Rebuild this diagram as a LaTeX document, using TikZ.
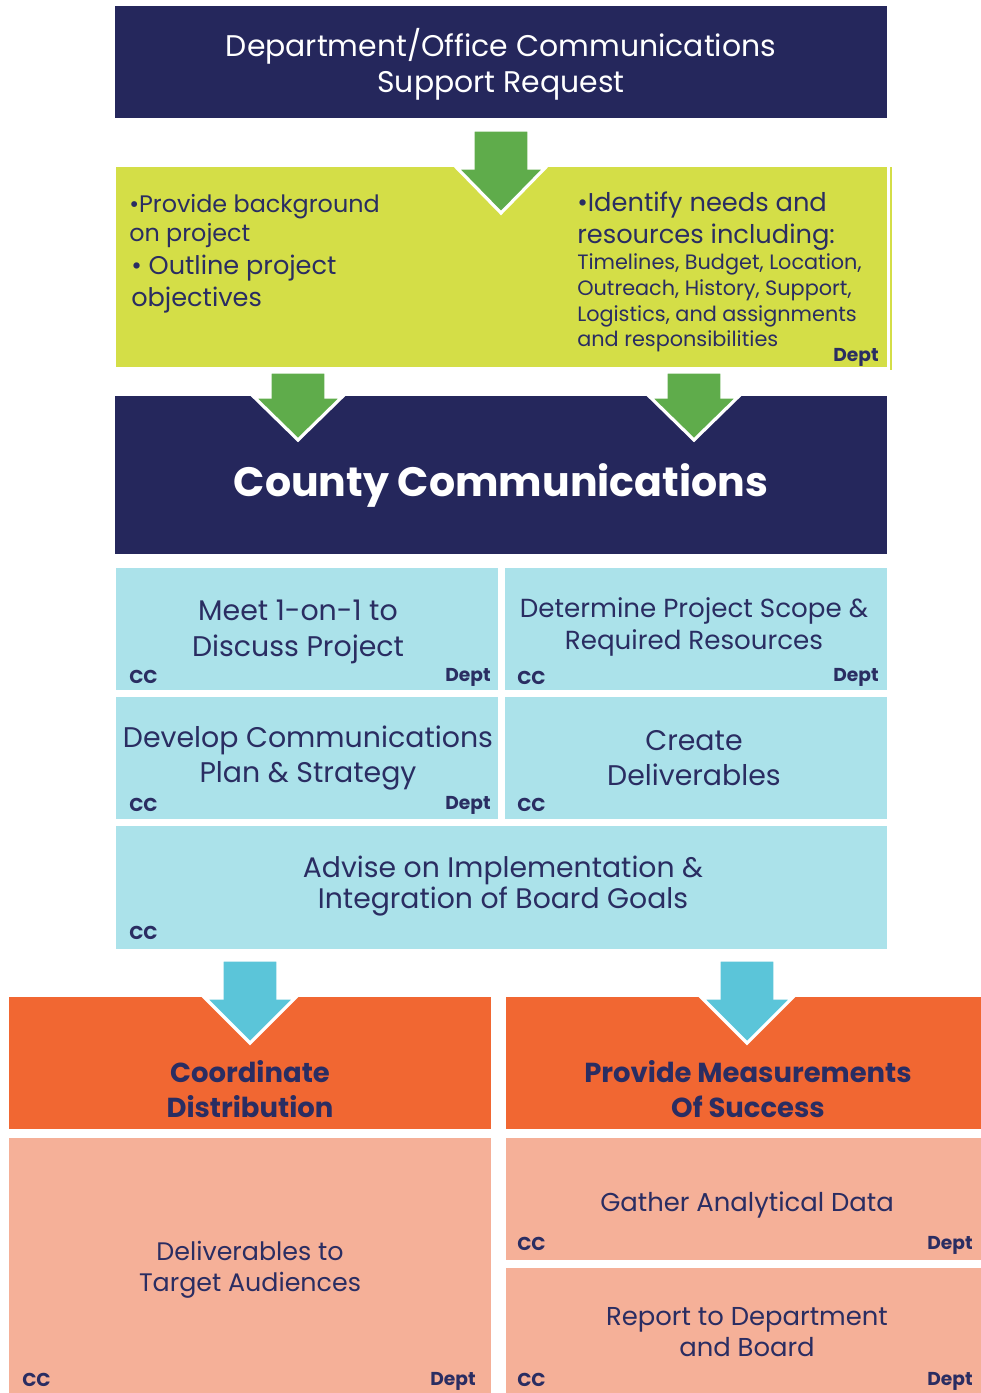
\documentclass[tikz,border=0pt]{standalone}
\usepackage{fontspec}
\setmainfont{Poppins}

\begin{document}
\begin{tikzpicture}[x=0.75pt,y=0.75pt,yscale=-1,xscale=1,
  navybox/.style={fill={rgb, 255:red, 37; green, 39; blue, 92 }},
  limebox/.style={fill={rgb, 255:red, 212; green, 222; blue, 71 }},
  cyanbox/.style={fill={rgb, 255:red, 171; green, 226; blue, 234 }},
  orangebox/.style={fill={rgb, 255:red, 241; green, 103; blue, 50 }},
  salmonbox/.style={fill={rgb, 255:red, 245; green, 176; blue, 152 }},
  greenarrow/.style={fill={rgb, 255:red, 95; green, 172; blue, 75 }, draw=white, line width=2.4pt, line join=miter},
  bluearrow/.style={fill={rgb, 255:red, 91; green, 197; blue, 217 }, draw=white, line width=2.4pt, line join=miter},
  navytext/.style={text={rgb, 255:red, 42; green, 45; blue, 98 }, align=center, inner sep=0pt},
  steptext/.style={navytext, font=\fontsize{21.3}{26.5}\selectfont},
  tagtext/.style={text={rgb, 255:red, 42; green, 45; blue, 98 }, inner sep=0pt, font=\bfseries\fontsize{14}{15}\selectfont}
]
\useasboundingbox (0,0) rectangle (981,1393);

%Shape: Rectangle (request)
\fill [navybox] (115,6) rectangle (887,118) ;
%Shape: Rectangle (department input)
\fill [limebox] (116,167) rectangle (887,367) ;
\fill [limebox] (890,167) rectangle (892,370) ;
%Shape: Rectangle (county communications)
\fill [navybox] (115,396) rectangle (887,554) ;
%Shape: Rectangle (steps)
\fill [cyanbox] (116,568) rectangle (498,690) ;
\fill [cyanbox] (505,568) rectangle (887,690) ;
\fill [cyanbox] (116,697) rectangle (498,819) ;
\fill [cyanbox] (505,697) rectangle (887,819) ;
\fill [cyanbox] (116,826) rectangle (887,949) ;
%Shape: Rectangle (outcomes)
\fill [orangebox] (9,997) rectangle (491,1129) ;
\fill [orangebox] (506,997) rectangle (981,1129) ;
\fill [salmonbox] (9,1138) rectangle (491,1393) ;
\fill [salmonbox] (506,1138) rectangle (981,1260) ;
\fill [salmonbox] (506,1268) rectangle (981,1393) ;

%Shape: Down Arrow
\draw [greenarrow] (473,130) -- (529,130) -- (529,168) -- (545,168) -- (501,213) -- (457,168) -- (473,168) -- cycle ;
%Shape: Down Arrow
\draw [greenarrow] (270,372) -- (326,372) -- (326,397) -- (342,397) -- (298,440) -- (254,397) -- (270,397) -- cycle ;
%Shape: Down Arrow
\draw [greenarrow] (666,372) -- (722,372) -- (722,397) -- (738,397) -- (694,440) -- (650,397) -- (666,397) -- cycle ;
%Shape: Down Arrow
\draw [bluearrow] (222,960) -- (278,960) -- (278,998) -- (295,998) -- (250,1043) -- (205,998) -- (222,998) -- cycle ;
%Shape: Down Arrow
\draw [bluearrow] (719,960) -- (775,960) -- (775,998) -- (792,998) -- (747,1043) -- (702,998) -- (719,998) -- cycle ;

% Text Node
\node (request) at (501,64) [align=center, text=white, inner sep=0pt, font=\fontsize{22.4}{27}\selectfont] {Department/Office Communications\\Support Request};
% Text Node
\node (background) at (129,221) [navytext, anchor=west, align=left, font=\fontsize{17.9}{22}\selectfont] {•Provide background\\on project};
% Text Node
\node (objectives) at (131,284) [navytext, anchor=west, align=left, font=\fontsize{19.2}{23.5}\selectfont] {• Outline project\\objectives};
% Text Node
\node (needs) at (577,221) [navytext, anchor=west, align=left, font=\fontsize{19.3}{24}\selectfont] {•Identify needs and\\resources including:};
% Text Node
\node (resources) at (577,303) [navytext, anchor=west, align=left, font=\fontsize{15.6}{19.3}\selectfont] {Timelines, Budget, Location,\\Outreach, History, Support,\\Logistics, and assignments\\and responsibilities};
% Text Node
\node (deptA) at (879,357) [tagtext, anchor=east] {Dept};
% Text Node
\node (county) at (501,485) [text=white, inner sep=0pt, font=\bfseries\fontsize{30.8}{34}\selectfont] {County Communications};

% Text Node
\node (meet) at (298,632) [steptext] {Meet 1-on-1 to\\Discuss Project};
\node (meetcc) at (129,677) [tagtext, anchor=west] {CC};
\node (meetdept) at (491,677) [tagtext, anchor=east] {Dept};
% Text Node
\node (scope) at (694,627) [navytext, font=\fontsize{19.6}{24}\selectfont] {Determine Project Scope \&\\Required Resources};
\node (scopecc) at (517,678) [tagtext, anchor=west] {CC};
\node (scopedept) at (879,677) [tagtext, anchor=east] {Dept};
% Text Node
\node (plan) at (308,758) [steptext] {Develop Communications\\Plan \& Strategy};
\node (plancc) at (129,805) [tagtext, anchor=west] {CC};
\node (plandept) at (491,805) [tagtext, anchor=east] {Dept};
% Text Node
\node (create) at (694,758) [steptext] {Create\\Deliverables};
\node (createcc) at (517,805) [tagtext, anchor=west] {CC};
% Text Node
\node (advise) at (503,886) [navytext, font=\fontsize{21.2}{23.5}\selectfont] {Advise on Implementation \&\\Integration of Board Goals};
\node (advisecc) at (129,933) [tagtext, anchor=west] {CC};

% Text Node
\node (distribution) at (250,1089) [navytext, font=\bfseries\fontsize{20.6}{26}\selectfont] {Coordinate\\Distribution};
% Text Node
\node (measure) at (748,1089) [navytext, font=\bfseries\fontsize{20.6}{26}\selectfont] {Provide Measurements\\Of Success};
% Text Node
\node (audiences) at (250,1270) [navytext, font=\fontsize{19}{23}\selectfont] {Deliverables to\\Target Audiences};
\node (audiencescc) at (22,1380) [tagtext, anchor=west] {CC};
\node (audiencesdept) at (476,1381) [tagtext, anchor=east] {Dept};
% Text Node
\node (gather) at (747,1205) [navytext, font=\fontsize{19.4}{23}\selectfont] {Gather Analytical Data};
\node (gathercc) at (517,1244) [tagtext, anchor=west] {CC};
\node (gatherdept) at (973,1245) [tagtext, anchor=east] {Dept};
% Text Node
\node (report) at (747,1332) [navytext, font=\fontsize{19.4}{23}\selectfont] {Report to Department\\and Board};
\node (reportcc) at (517,1380) [tagtext, anchor=west] {CC};
\node (reportdept) at (973,1381) [tagtext, anchor=east] {Dept};

\end{tikzpicture}
\end{document}
